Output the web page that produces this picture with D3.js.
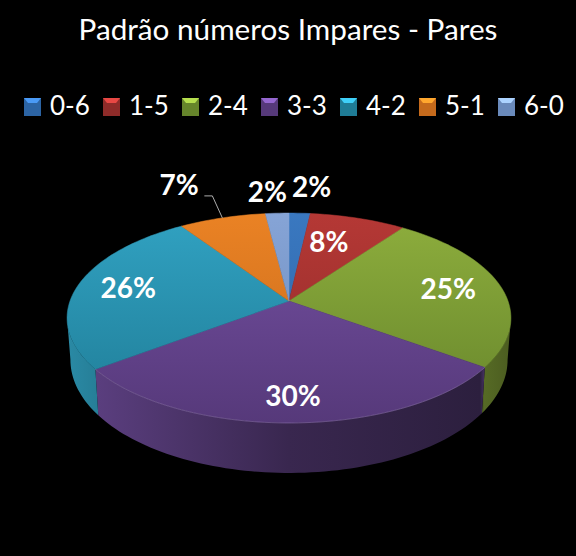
<!DOCTYPE html>
<html>
<head>
<meta charset="utf-8">
<script src="https://cdn.jsdelivr.net/npm/d3@7"></script>
<style>
html, body { margin: 0; padding: 0; background: #000; }
svg { display: block; font-family: Lato, "Open Sans", sans-serif; }
</style>
</head>
<body>
<div id="chart"></div>
<script>
var categories = ["0-6", "1-5", "2-4", "3-3", "4-2", "5-1", "6-0"];
var values = [1.8, 8.2, 25, 29.7, 25.9, 7.4, 2];
var colorsTop = ["#3a78c0", "#b53835", "#8eae3d", "#7450a2", "#31a2c2", "#ea8224", "#86a4d6"];
var colorsBottom = ["#2c64a4", "#8e2b29", "#66852b", "#56397a", "#1f7c96", "#c56a1c", "#6a8abb"];
var titleText = "Padrão números Impares - Pares";

// where each percent label sits: radius on the pie plane and a small pixel nudge
var labelRadius = [1.35, 0.68, 0.75, 0.81, 0.76, 1.52, 1.29];
var labelDx = [9, -9, 0, 2, 0, -15, -7];
var labelDy = [-1.5, -1.5, -1.5, -1.5, -1.5, 1.5, -1.5];

var width = 576, height = 556;
var cx = 289, cy = 301;
var planeX = 219, planeY = 102.2, tilt = 0.162;
var toRad = Math.PI / 180;

var svg = d3.select("#chart").append("svg")
    .attr("width", width)
    .attr("height", height);
var defs = svg.append("defs");

svg.append("rect")
    .attr("width", width)
    .attr("height", height)
    .attr("fill", "#000");

// perspective projection of a point of the pie; z 0 is the top face, z 1 the bottom rim
function project(angle, r, z) {
    var x = Math.sin(angle) * r;
    var y = -Math.cos(angle) * r;
    var d = 1 - tilt * y;
    var inset = 1 - 0.015 * z;
    return [
        cx + planeX * x / d * inset,
        cy + planeY * y / d + z * (40 + 10 * y)
    ];
}

function arcPoints(a0, a1, z) {
    var n = Math.max(2, Math.ceil((a1 - a0) / (toRad * 1.5)));
    return d3.range(n + 1).map(function(i) {
        return project(a0 + (a1 - a0) * i / n, 1, z);
    });
}

var line = d3.line();
var pie = d3.pie().sort(null);
var slices = pie(values);

slices.forEach(function(s, i) {
    var top = defs.append("linearGradient")
        .attr("id", "top" + i)
        .attr("gradientUnits", "userSpaceOnUse")
        .attr("x1", 0).attr("x2", 0)
        .attr("y1", 213).attr("y2", 423);
    top.append("stop").attr("offset", 0).attr("stop-color", colorsTop[i]);
    top.append("stop").attr("offset", 1).attr("stop-color", colorsBottom[i]);

    var side = defs.append("linearGradient")
        .attr("id", "side" + i)
        .attr("gradientUnits", "userSpaceOnUse")
        .attr("x1", 67).attr("x2", 511)
        .attr("y1", 0).attr("y2", 0);
    [[0, 0.45], [0.07, 0.7], [0.5, 2], [0.93, 2.7], [0.94, 1.4], [1, 1.8]].forEach(function(st) {
        side.append("stop")
            .attr("offset", st[0])
            .attr("stop-color", d3.color(colorsTop[i]).darker(st[1]).formatHex());
    });
});

// side wall, only the part facing the viewer
var wallFrom = 99.3 * toRad, wallTo = 260.7 * toRad;
svg.append("g").selectAll("path")
    .data(slices.filter(function(s) {
        return s.endAngle > wallFrom && s.startAngle < wallTo;
    }))
    .enter().append("path")
    .attr("fill", function(s) { return "url(#side" + s.index + ")"; })
    .attr("d", function(s) {
        var a0 = Math.max(s.startAngle, wallFrom);
        var a1 = Math.min(s.endAngle, wallTo);
        return line(arcPoints(a0, a1, 0).concat(arcPoints(a0, a1, 1).reverse())) + "Z";
    });

// top face
svg.append("g").selectAll("path")
    .data(slices)
    .enter().append("path")
    .attr("fill", function(s) { return "url(#top" + s.index + ")"; })
    .attr("stroke", function(s) { return "url(#top" + s.index + ")"; })
    .attr("stroke-width", 0.5)
    .attr("d", function(s) {
        return line([[cx, cy]].concat(arcPoints(s.startAngle, s.endAngle, 0))) + "Z";
    });

// thin light edge along the front of the pie
svg.append("path")
    .attr("fill", "none")
    .attr("stroke", "#a48fc0")
    .attr("stroke-opacity", 0.45)
    .attr("stroke-width", 0.8)
    .attr("d", line(arcPoints(slices[3].startAngle, slices[3].endAngle, 0)));

// leader line of the 5-1 label
var leaderEnd = project((slices[5].startAngle + slices[5].endAngle) / 2, 1, 0);
svg.append("path")
    .attr("fill", "none")
    .attr("stroke", "#d9d9d9")
    .attr("stroke-width", 0.8)
    .attr("d", line([
        [leaderEnd[0] - 18, leaderEnd[1] - 22],
        [leaderEnd[0] - 10, leaderEnd[1] - 22],
        [leaderEnd[0], leaderEnd[1]]
    ]));

// percent labels
svg.append("g").selectAll("text")
    .data(slices)
    .enter().append("text")
    .attr("text-anchor", "middle")
    .attr("dominant-baseline", "central")
    .attr("fill", "#fff")
    .attr("font-weight", 700)
    .attr("font-size", 28)
    .attr("x", function(s, i) {
        return project((s.startAngle + s.endAngle) / 2, labelRadius[i], 0)[0] + labelDx[i];
    })
    .attr("y", function(s, i) {
        return project((s.startAngle + s.endAngle) / 2, labelRadius[i], 0)[1] + labelDy[i];
    })
    .text(function(s) { return Math.round(s.value) + "%"; });

// title
svg.append("text")
    .attr("x", 288)
    .attr("y", 40)
    .attr("text-anchor", "middle")
    .attr("fill", "#fff")
    .attr("font-size", 29.7)
    .text(titleText);

// legend
var legendX = d3.scalePoint()
    .domain(categories)
    .range([24, 498]);

var legend = svg.append("g").selectAll("g")
    .data(categories)
    .enter().append("g")
    .attr("transform", function(d) { return "translate(" + legendX(d) + ",98)"; });

legend.append("rect")
    .attr("width", 17)
    .attr("height", 18)
    .attr("fill", function(d, i) { return colorsBottom[i]; });

legend.append("path")
    .attr("fill", function(d, i) { return d3.color(colorsTop[i]).brighter(0.7).formatHex(); })
    .attr("d", line([[0, 0], [17, 0], [13, 5], [4, 5]]) + "Z");

legend.append("text")
    .attr("x", 26)
    .attr("y", 17)
    .attr("fill", "#fff")
    .attr("font-size", 26)
    .text(function(d) { return d; });
</script>
</body>
</html>
